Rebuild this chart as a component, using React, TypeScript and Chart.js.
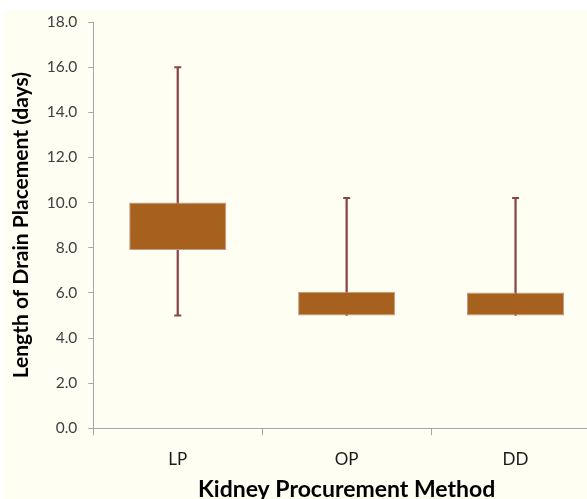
import React, { useEffect, useRef } from "react";
import { Chart, registerables } from "chart.js";

Chart.register(...registerables);

const categories = ["LP", "OP", "DD"];
const whiskerMin = [5.0, 5.0, 5.0];
const boxLow = [7.9, 5.0, 5.0];
const boxHigh = [10.0, 6.05, 6.02];
const whiskerMax = [16.0, 10.2, 10.2];
const yTicks = [0, 2, 4, 6, 8, 10, 12, 14, 16, 18];

const FONT = "Lato, 'Open Sans', sans-serif";
const WHISKER = "#8A4646";

export default function App() {
  const ref = useRef<HTMLCanvasElement | null>(null);

  useEffect(() => {
    if (!ref.current) return;
    const capLow = whiskerMin.map((v, i) => (v < boxLow[i] ? v : null));
    const chart = new Chart(ref.current, {
      type: "bar",
      data: {
        labels: categories,
        datasets: [
          {
            type: "bar",
            label: "Box",
            data: categories.map((_, i) => [boxLow[i], boxHigh[i]]),
            backgroundColor: "#A6611F",
            borderColor: "#C79A86",
            borderWidth: 1,
            borderSkipped: false,
            grouped: false,
            categoryPercentage: 1,
            barPercentage: 0.575,
            order: 0,
          } as any,
          {
            type: "bar",
            label: "Whisker",
            data: categories.map((_, i) => [whiskerMin[i], whiskerMax[i]]),
            backgroundColor: WHISKER,
            borderWidth: 0,
            grouped: false,
            barThickness: 1.6,
            order: 1,
          } as any,
          {
            type: "line",
            label: "CapHigh",
            data: whiskerMax,
            showLine: false,
            pointStyle: "line",
            pointRadius: 3.5,
            pointBorderWidth: 2,
            pointBorderColor: WHISKER,
            borderColor: WHISKER,
            order: 2,
          } as any,
          {
            type: "line",
            label: "CapLow",
            data: capLow,
            showLine: false,
            pointStyle: "line",
            pointRadius: 3.5,
            pointBorderWidth: 2,
            pointBorderColor: WHISKER,
            borderColor: WHISKER,
            order: 2,
          } as any,
        ],
      },
      options: {
        responsive: false,
        animation: false,
        devicePixelRatio: 1,
        layout: { padding: { top: 22, right: 10, left: 0, bottom: 0 } },
        plugins: {
          legend: { display: false },
          tooltip: { enabled: false },
        },
        scales: {
          x: {
            type: "category",
            offset: true,
            grid: {
              display: true,
              offset: true,
              drawOnChartArea: false,
              drawTicks: true,
              tickLength: 7,
              color: "#A6A6A6",
            },
            border: { display: true, color: "#A6A6A6", width: 1 },
            ticks: {
              color: "#1A1A1A",
              padding: 14,
              font: { family: FONT, size: 17 },
            },
            title: {
              display: true,
              text: "Kidney Procurement Method",
              color: "#000000",
              font: { family: FONT, size: 23, weight: "bold" },
              padding: { top: 0, bottom: 7 },
            },
            afterFit: (scale: any) => {
              scale.height = 81.7;
            },
          },
          y: {
            type: "linear",
            min: 0,
            max: 18,
            afterBuildTicks: (scale: any) => {
              scale.ticks = yTicks.map((v) => ({ value: v }));
            },
            grid: {
              display: true,
              drawOnChartArea: false,
              drawTicks: true,
              tickLength: 5,
              color: "#A6A6A6",
            },
            border: { display: true, color: "#A6A6A6", width: 1 },
            ticks: {
              color: "#404040",
              padding: 11,
              font: { family: FONT, size: 15.5 },
              callback: (v: any) => Number(v).toFixed(1),
            },
            title: {
              display: true,
              text: "Length of Drain Placement (days)",
              color: "#000000",
              font: { family: FONT, size: 21, weight: "bold" },
              padding: { top: 9, bottom: 0 },
            },
            afterFit: (scale: any) => {
              scale.width = 93.3;
            },
          },
        },
      },
    });
    return () => chart.destroy();
  }, []);

  return (
    <div
      style={{
        position: "fixed",
        left: 0,
        top: 0,
        width: 587,
        height: 499,
        overflow: "hidden",
        background: "#FFFFFF",
      }}
    >
      <div
        style={{
          position: "absolute",
          left: 3,
          top: 10,
          right: 0,
          bottom: 0,
          background: "#FEFEF2",
        }}
      />
      <canvas
        ref={ref}
        width={610}
        height={510}
        style={{ position: "absolute", left: 0, top: 0, width: 610, height: 510 }}
      />
    </div>
  );
}
